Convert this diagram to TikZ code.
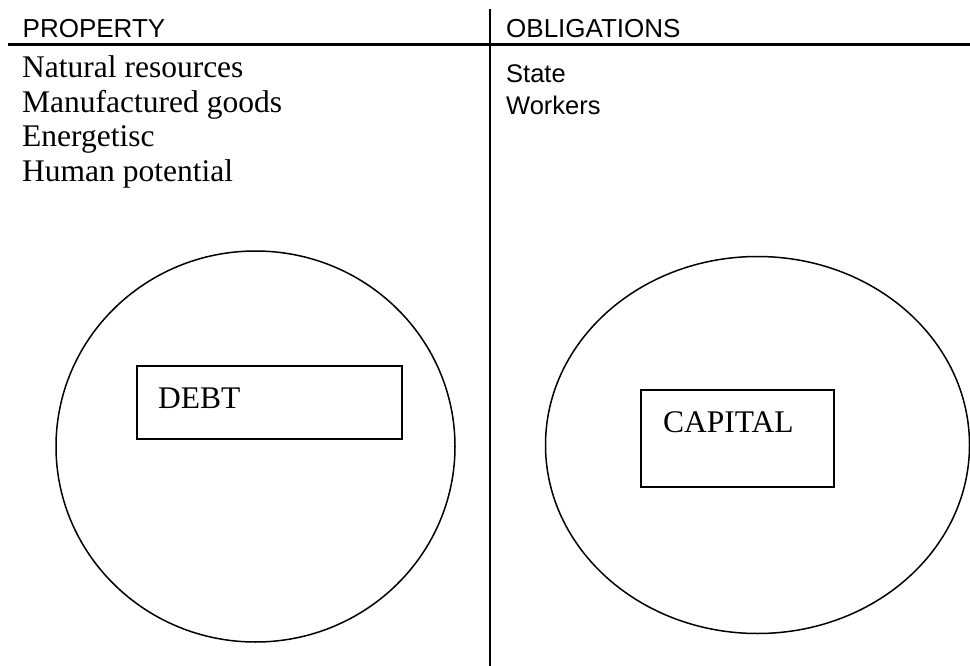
\documentclass[tikz,border=0pt]{standalone}
\usepackage{fontspec}
\setmainfont{Liberation Serif}
\setsansfont{Liberation Sans}

\begin{document}
\begin{tikzpicture}[x=1pt,y=-1pt,
    heading/.style={anchor=base west,inner sep=0pt,font=\sffamily\fontsize{26}{26}\selectfont},
    propitem/.style={anchor=base west,inner sep=0pt,font=\fontsize{31.5}{31.5}\selectfont},
    obligitem/.style={anchor=base west,inner sep=0pt,font=\sffamily\fontsize{25.5}{25.5}\selectfont},
    boxlabel/.style={anchor=base west,inner sep=0pt,font=\fontsize{31.5}{31.5}\selectfont},
    holder/.style={draw,line width=1.5pt,inner sep=0pt}]
  \useasboundingbox (0,0) rectangle (970,666);

  % table rules:
  \coordinate (rule west) at (8,45);
  \coordinate (rule east) at (970,45);
  \coordinate (split top) at (490,9);
  \coordinate (split bottom) at (490,666);
  \draw[line width=3pt] (rule west) -- (rule east);
  \draw[line width=2.5pt] (split top) -- (split bottom);

  % headings:
  \node[heading] (property) at (22.5,38) {PROPERTY};
  \node[heading] (obligations) at (506,38) {OBLIGATIONS};

  % left column
  \foreach \name/\txt [count=\i] in {natural/Natural resources,
      goods/Manufactured goods, energy/Energetisc, human/Human potential}
     \node[propitem] (\name) at (22,43.5+34.5*\i) {\txt};
  % right column
  \foreach \name/\txt [count=\i] in {state/State, workers/Workers}
     \node[obligitem] (\name) at (506,51+32*\i) {\txt};

  % debt circle:
  \draw[line width=1.5pt] (255.5,446.5) ellipse [x radius=199.5, y radius=195.5];
  \node[holder,minimum width=265pt,minimum height=73pt] (debt) at (269.5,402.5) {};
  \node[boxlabel] (debt text) at (158,408) {DEBT};

  % capital ellipse:
  \draw[line width=1.5pt] (757.5,445) ellipse [x radius=212, y radius=188.5];
  \node[holder,minimum width=193pt,minimum height=97pt] (capital) at (737.5,438.5) {};
  \node[boxlabel] (capital text) at (663,432) {CAPITAL};
\end{tikzpicture}
\end{document}
